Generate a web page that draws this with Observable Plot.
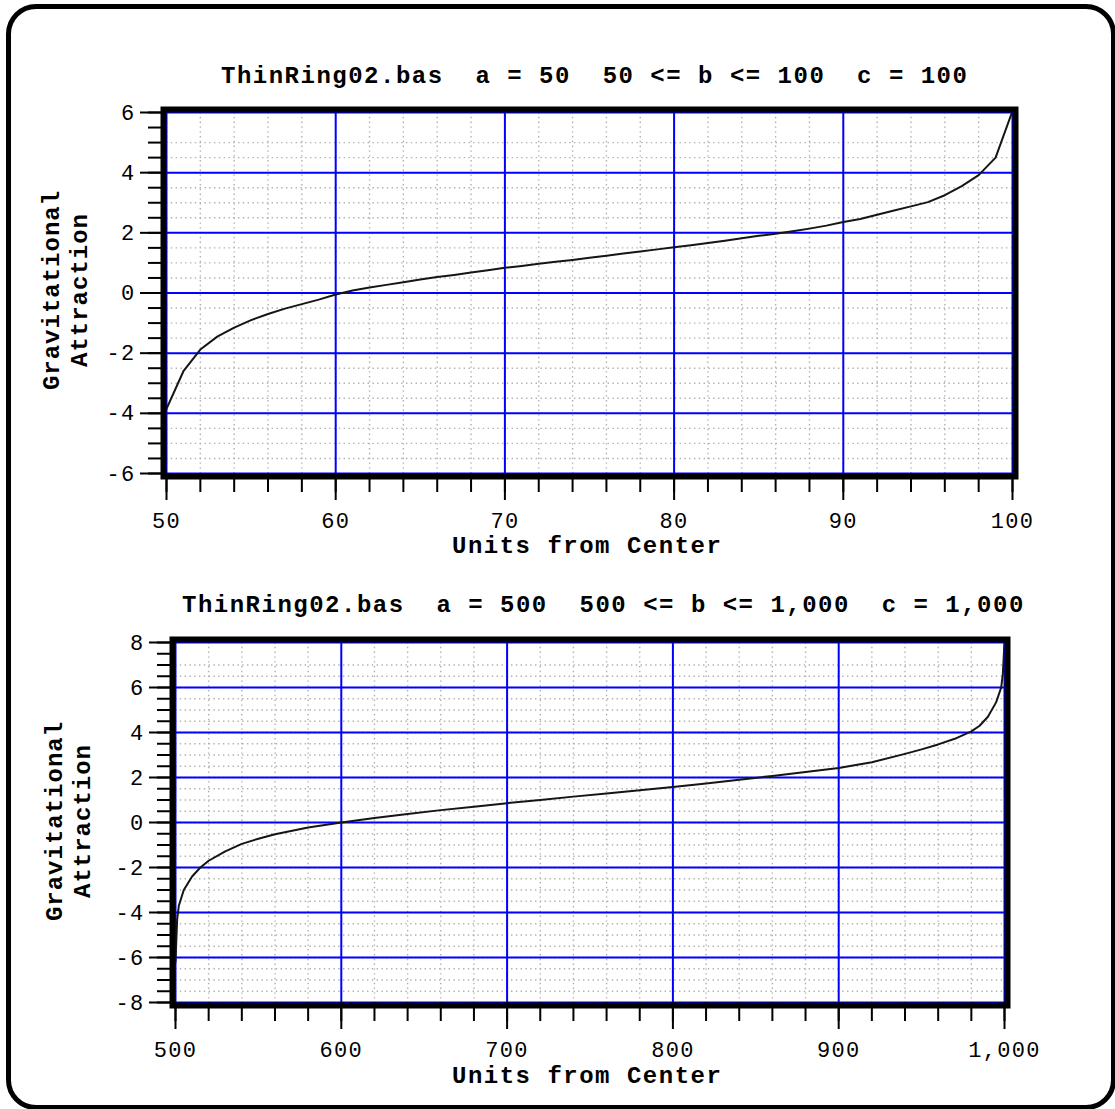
<!DOCTYPE html>
<html>
<head>
<meta charset="utf-8">
<script src="https://cdn.jsdelivr.net/npm/d3@7"></script>
<script src="https://cdn.jsdelivr.net/npm/@observablehq/plot@0.6"></script>
<style>
  html, body { margin: 0; padding: 0; background: #fff; }
  body { width: 1115px; height: 1109px; overflow: hidden; position: relative; font-family: "Liberation Mono", "DejaVu Sans Mono", monospace; }
  #border { position: absolute; left: 6px; top: 4px; width: 1110px; height: 1106px; border: 5px solid #000; border-radius: 30px; box-sizing: border-box; }
  .chart { position: absolute; left: 0; }
  .chart svg { overflow: visible; }
  .chart svg text { letter-spacing: 1.3px; }
  .lbl { position: absolute; white-space: pre; font-weight: bold; font-size: 24px; line-height: 20px; letter-spacing: 1.5px; color: #000; }
  .ylbl { position: absolute; white-space: pre; font-weight: bold; font-size: 24px; line-height: 28px; letter-spacing: 1px; text-align: center; color: #000; transform: translate(-50%, -50%) rotate(-90deg); }
</style>
</head>
<body>
<div id="border"></div>
<div id="root"></div>
<script>
// ---------- data ----------
const topTitle = "ThinRing02.bas  a = 50  50 <= b <= 100  c = 100";
const bottomTitle = "ThinRing02.bas  a = 500  500 <= b <= 1,000  c = 1,000";
const xLabelText = "Units from Center";
const yLabelText = "Gravitational\nAttraction";

const topX = [50,51,52,53,54,55,56,57,58,59,60,61,62,63,64,65,66,67,68,69,70,71,72,73,74,75,76,77,78,79,80,81,82,83,84,85,86,87,88,89,90,91,92,93,94,95,96,97,98,99,100];
const topY = [-3.85,-2.6,-1.88,-1.45,-1.15,-0.9,-0.7,-0.52,-0.37,-0.22,-0.05,0.08,0.18,0.27,0.36,0.45,0.53,0.6,0.68,0.76,0.84,0.9,0.97,1.04,1.1,1.17,1.24,1.31,1.38,1.45,1.52,1.59,1.66,1.74,1.82,1.9,1.97,2.05,2.14,2.24,2.36,2.46,2.6,2.74,2.88,3.02,3.25,3.55,3.92,4.5,6.05];
const topXTicks = [50,60,70,80,90,100];
const topYTicks = [-6,-4,-2,0,2,4,6];

const botX = [500,501,502,505,510,515,520,530,540,550,560,580,600,620,640,660,680,700,720,740,760,780,800,820,840,860,880,900,920,940,950,960,970,980,985,990,995,998,999,1000];
const botY = [-6.2,-4.3,-3.7,-3.0,-2.4,-2.0,-1.7,-1.28,-0.95,-0.72,-0.52,-0.22,0.0,0.2,0.38,0.55,0.7,0.86,1.0,1.15,1.29,1.43,1.58,1.73,1.9,2.07,2.24,2.42,2.68,3.05,3.25,3.47,3.72,4.05,4.3,4.7,5.35,6.0,6.6,8.0];
const botXTicks = [500,600,700,800,900,1000];
const botYTicks = [-8,-6,-4,-2,0,2,4,6,8];

// ---------- drawing ----------
function chart(cfg) {
  const data = cfg.xs.map((x, i) => ({x, y: cfg.ys[i]}));
  const xMinor = d3.range(cfg.xDomain[0], cfg.xDomain[1] + 1e-9, cfg.xMinorStep);
  const yMinor = d3.range(cfg.yDomain[0], cfg.yDomain[1] + 1e-9, 0.5);
  const yDots = yMinor.filter(v => v < cfg.yDomain[1] - 0.5 - 1e-9);
  const dotted = {stroke: "#b0b0b0", strokeWidth: 1.4, strokeDasharray: "1.4,3.4"};
  const blue = {stroke: "#0000ff", strokeWidth: 2};
  return Plot.plot({
    width: 1115,
    height: cfg.height,
    marginLeft: cfg.ml, marginRight: cfg.mr, marginTop: cfg.mt, marginBottom: cfg.mb,
    x: {domain: cfg.xDomain},
    y: {domain: cfg.yDomain},
    style: {fontFamily: '"Liberation Mono", "DejaVu Sans Mono", monospace', fontSize: "22px", color: "#000", background: "transparent", overflow: "visible"},
    marks: [
      Plot.ruleX(xMinor, {...dotted}),
      Plot.ruleY(yDots, {...dotted}),
      Plot.ruleX(cfg.xTicks, blue),
      Plot.ruleY(cfg.yTicks, blue),
      Plot.line(data, {x: "x", y: "y", stroke: "#151515", strokeWidth: 2, clip: true}),
      Plot.axisX({ticks: xMinor, tickSize: 19, tickFormat: null, text: null, strokeWidth: 2, label: null, stroke: "#000"}),
      Plot.axisX({ticks: cfg.xTicks, tickSize: 27, tickPadding: 12, tickFormat: cfg.xFormat, strokeWidth: 2, label: null, stroke: "#000", fill: "#000"}),
      Plot.axisY({ticks: yMinor, tickSize: 18, tickFormat: null, text: null, strokeWidth: 2, label: null, stroke: "#000"}),
      Plot.axisY({ticks: cfg.yTicks, tickSize: 26, tickPadding: 5, tickFormat: d => String(d), strokeWidth: 2, label: null, stroke: "#000", fill: "#000"}),
      Plot.frame({inset: -3, stroke: "#000", strokeWidth: 6})
    ]
  });
}

const root = document.getElementById("root");
function place(node, top) {
  const d = document.createElement("div");
  d.className = "chart";
  d.style.top = top + "px";
  d.appendChild(node);
  root.appendChild(d);
}
function label(cls, text, left, top) {
  const d = document.createElement("div");
  d.className = cls;
  d.textContent = text;
  d.style.left = left + "px";
  d.style.top = top + "px";
  root.appendChild(d);
}

place(chart({
  xs: topX, ys: topY, xDomain: [50, 100], yDomain: [-6, 6], xMinorStep: 2,
  xTicks: topXTicks, yTicks: topYTicks, xFormat: d => String(d),
  height: 560, ml: 166, mr: 103, mt: 112, mb: 87
}), 0);

place(chart({
  xs: botX, ys: botY, xDomain: [500, 1000], yDomain: [-8, 8], xMinorStep: 20,
  xTicks: botXTicks, yTicks: botYTicks, xFormat: d3.format(","),
  height: 549, ml: 175, mr: 111, mt: 82, mb: 107
}), 560);

label("lbl", topTitle, 221, 66.6);
label("lbl", xLabelText, 452, 536.8);
label("ylbl", yLabelText, 66.5, 290);
label("lbl", bottomTitle, 182, 595.6);
label("lbl", xLabelText, 452, 1066.6);
label("ylbl", yLabelText, 70, 821);
</script>
</body>
</html>
